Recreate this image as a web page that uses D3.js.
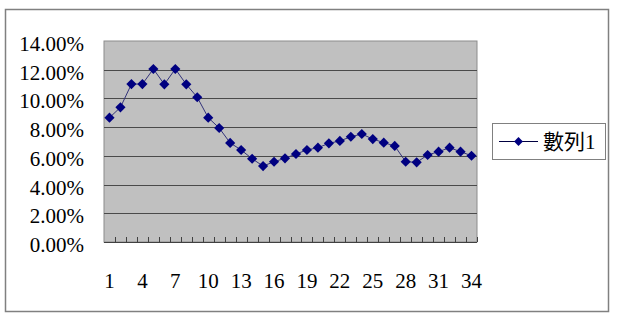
<!DOCTYPE html>
<html lang="zh-Hant">
<head>
    <meta charset="UTF-8">
    <title>數列1</title>
    <script src="https://cdn.jsdelivr.net/npm/d3@7"></script>
    <style>
        body {
            margin: 0;
            background: #fff;
        }
        svg {
            display: block;
        }
        .axis text {
            font-family: 'Liberation Serif', 'Noto Sans CJK TC', serif;
            font-size: 21px;
            fill: #000;
        }
        .axis path {
            display: none;
        }
        .legend text {
            font-family: 'Liberation Serif', 'Noto Sans CJK TC', serif;
            font-size: 21px;
            fill: #000;
        }
    </style>
</head>
<body>
<svg id="chart" width="620" height="318"></svg>
<script>
    // categories 1..34
    const categories = [1, 2, 3, 4, 5, 6, 7, 8, 9, 10, 11, 12, 13, 14, 15, 16, 17,
        18, 19, 20, 21, 22, 23, 24, 25, 26, 27, 28, 29, 30, 31, 32, 33, 34];
    // 數列1 (percent)
    const series1 = [8.66, 9.38, 11.0, 11.0, 12.05, 10.98, 12.05, 10.98, 10.08, 8.66,
        7.94, 6.9, 6.41, 5.8, 5.29, 5.59, 5.83, 6.13, 6.41, 6.57,
        6.87, 7.04, 7.33, 7.52, 7.17, 6.92, 6.69, 5.59, 5.55, 6.06,
        6.29, 6.57, 6.29, 6.01];
    const yTicks = [0, 2, 4, 6, 8, 10, 12, 14];
    const xTickLabels = [1, 4, 7, 10, 13, 16, 19, 22, 25, 28, 31, 34];
    const seriesName = '數列1';

    const svg = d3.select('#chart');
    const plot = { left: 104, top: 41, right: 477, bottom: 242 };

    // outer chart border
    svg.append('rect')
        .attr('x', 5.5).attr('y', 9.5)
        .attr('width', 603).attr('height', 302)
        .attr('fill', '#fff')
        .attr('stroke', '#808080')
        .attr('stroke-width', 1.5);

    const x = d3.scaleBand()
        .domain(categories)
        .range([plot.left, plot.right]);

    const y = d3.scaleLinear()
        .domain([0, 14])
        .range([plot.bottom, plot.top]);

    // plot area
    svg.append('rect')
        .attr('x', plot.left).attr('y', plot.top)
        .attr('width', plot.right - plot.left)
        .attr('height', plot.bottom - plot.top)
        .attr('fill', '#c0c0c0')
        .attr('stroke', '#8c8c8c')
        .attr('stroke-width', 1);

    // gridlines
    svg.append('g')
        .selectAll('line')
        .data(yTicks.filter(d => d > 0 && d < 14))
        .join('line')
        .attr('x1', plot.left).attr('x2', plot.right)
        .attr('y1', d => Math.round(y(d)) + 0.5)
        .attr('y2', d => Math.round(y(d)) + 0.5)
        .attr('stroke', '#4a4a4a')
        .attr('stroke-width', 1);

    // y axis
    const yAxis = svg.append('g')
        .attr('class', 'axis')
        .attr('transform', `translate(${plot.left},0)`)
        .call(d3.axisLeft(y).tickValues(yTicks).tickSize(0).tickPadding(20)
            .tickFormat(d => d.toFixed(2) + '%'));
    yAxis.selectAll('text').attr('dy', '0.45em');

    // x axis line and inside tick marks at category boundaries
    svg.append('line')
        .attr('x1', plot.left).attr('x2', plot.right)
        .attr('y1', plot.bottom + 0.5).attr('y2', plot.bottom + 0.5)
        .attr('stroke', '#404040');

    svg.append('g')
        .selectAll('line')
        .data(categories)
        .join('line')
        .attr('x1', d => Math.round(x(d) + x.bandwidth()) + 0.5)
        .attr('x2', d => Math.round(x(d) + x.bandwidth()) + 0.5)
        .attr('y1', plot.bottom)
        .attr('y2', plot.bottom - 5)
        .attr('stroke', '#404040');

    svg.append('g')
        .attr('class', 'axis')
        .attr('transform', `translate(0,${plot.bottom})`)
        .call(d3.axisBottom(x).tickValues(xTickLabels).tickSize(0).tickPadding(31));

    // line + diamond markers
    const cx = (d, i) => x(categories[i]) + x.bandwidth() / 2;
    const line = d3.line()
        .x((d, i) => cx(d, i))
        .y(d => y(d));

    svg.append('path')
        .datum(series1)
        .attr('d', line)
        .attr('fill', 'none')
        .attr('stroke', '#33337a')
        .attr('stroke-width', 1);

    const diamond = d3.symbol().type(d3.symbolDiamond2).size(66);
    svg.append('g')
        .selectAll('path')
        .data(series1)
        .join('path')
        .attr('d', diamond)
        .attr('transform', (d, i) => `translate(${cx(d, i)},${y(d)})`)
        .attr('fill', '#000080');

    // legend
    const legend = svg.append('g').attr('class', 'legend');
    legend.append('rect')
        .attr('x', 492.5).attr('y', 123.5)
        .attr('width', 113).attr('height', 36)
        .attr('fill', '#fff')
        .attr('stroke', '#808080')
        .attr('stroke-width', 1);
    legend.append('line')
        .attr('x1', 499).attr('x2', 538)
        .attr('y1', 141.5).attr('y2', 141.5)
        .attr('stroke', '#000040');
    legend.append('path')
        .attr('d', d3.symbol().type(d3.symbolDiamond2).size(50))
        .attr('transform', 'translate(518.5,141.5)')
        .attr('fill', '#000080');
    legend.append('text')
        .attr('x', 543).attr('y', 149)
        .text(seriesName);
</script>
</body>
</html>
